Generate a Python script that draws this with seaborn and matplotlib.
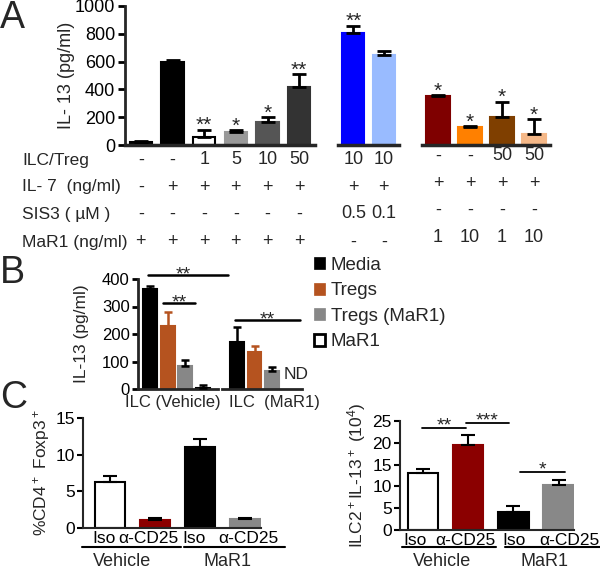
import numpy as np
import matplotlib
matplotlib.use("Agg")
import matplotlib.pyplot as plt
import matplotlib.transforms as mtransforms
from matplotlib.patches import Patch
import seaborn as sns

# ---- panel A : IL-13 (pg/ml) ----
a1_vals = [20, 600, 60, 95, 165, 420]
a1_err = [10, 12, 50, 12, 35, 90]
a1_stars = ["", "", "**", "*", "*", "**"]
a1_colors = ["#000000", "#000000", "#ffffff", "#999999", "#555555", "#333333"]

a2_vals = [808, 645]
a2_err = [50, 30]
a2_stars = ["**", ""]
a2_colors = ["#0000ff", "#99bbff"]

a3_vals = [352, 130, 200, 78]
a3_err = [5, 5, 110, 108]
a3_stars = ["*", "*", "*", "*"]
a3_colors = ["#7f0000", "#ff8000", "#7f3f00", "#f5b888"]

row_names = ["ILC/Treg", "IL- 7  (ng/ml)", "SIS3 ( µM )", "MaR1 (ng/ml)"]
a1_rows = [["-", "-", "1", "5", "10", "50"],
           ["-", "+", "+", "+", "+", "+"],
           ["-", "-", "-", "-", "-", "-"],
           ["+", "+", "+", "+", "+", "+"]]
a2_rows = [["10", "10"], ["+", "+"], ["0.5", "0.1"], ["-", "-"]]
a3_rows = [["-", "-", "50", "50"], ["+", "+", "+", "+"],
           ["-", "-", "-", "-"], ["1", "10", "1", "10"]]

# ---- panel B ----
b_labels = ["Media", "Tregs", "Tregs (MaR1)", "MaR1"]
b_colors = ["#000000", "#b5531f", "#878787", "#ffffff"]
b_veh_vals = [365, 230, 85, 5]
b_veh_err = [8, 50, 22, 10]
b_mar_vals = [170, 135, 65]
b_mar_err = [57, 20, 14]

# ---- panel C ----
c_ticks = ["Iso", "α-CD25", "Iso", "α-CD25"]
c_groups = ["Vehicle", "MaR1"]
c_colors = ["#ffffff", "#8b0000", "#000000", "#888888"]
c1_vals = [6.3, 1.1, 11.0, 1.25]
c1_err = [0.8, 0.25, 1.1, 0.12]
c2_vals = [13.0, 19.5, 4.2, 10.3]
c2_err = [0.9, 2.2, 1.3, 1.2]

W, H = 600, 569
sns.set_style("ticks")
plt.rcParams["font.family"] = ["Liberation Sans", "DejaVu Sans"]
plt.rcParams["mathtext.default"] = "regular"
plt.rcParams["xtick.color"] = "black"
plt.rcParams["ytick.color"] = "black"

fig = plt.figure(figsize=(W / 100, H / 100), dpi=100)


def px_box(l, t, r, b):
    return [l / W, 1 - b / H, (r - l) / W, (b - t) / H]


def fy(p):
    return 1 - p / H


def bars(ax, vals, err, colors, width, ecolors=None, lw=2, cap=5):
    ids = [f"b{i}" for i in range(len(vals))]
    sns.barplot(x=ids, y=vals, hue=ids, palette=dict(zip(ids, colors)),
                legend=False, width=width, saturation=1, ax=ax)
    for p, c in zip(ax.patches, colors):
        p.set_edgecolor("black" if c == "#ffffff" else c)
        p.set_linewidth(1.5)
    if ecolors is None:
        ecolors = ["black"] * len(vals)
    for i, (v, e, ec) in enumerate(zip(vals, err, ecolors)):
        ax.errorbar([i], [v], yerr=[[0], [e]], fmt="none", ecolor=ec,
                    elinewidth=lw, capsize=cap, capthick=lw, zorder=3)
    ax.set_xlabel("")
    ax.set_ylabel("")
    sns.despine(ax=ax)


def stars(ax, vals, err, marks, size=15):
    for i, (v, e, s) in enumerate(zip(vals, err, marks)):
        if s:
            ax.annotate(s, (i, v + e), xytext=(0, -1), textcoords="offset points",
                        ha="center", va="baseline", fontsize=size)


# ================= A =================
axA1 = fig.add_axes(px_box(125, 6, 315, 145))
axA2 = fig.add_axes(px_box(338, 6, 399, 145))
axA3 = fig.add_axes(px_box(422, 6, 550, 145))
bars(axA1, a1_vals, a1_err, a1_colors, 0.7)
bars(axA2, a2_vals, a2_err, a2_colors, 0.72)
bars(axA3, a3_vals, a3_err, a3_colors, 0.72)
stars(axA1, a1_vals, a1_err, a1_stars)
stars(axA2, a2_vals, a2_err, a2_stars)
stars(axA3, a3_vals, a3_err, a3_stars)
for ax, n in [(axA1, 6), (axA2, 2), (axA3, 4)]:
    ax.set_ylim(0, 1000)
    ax.set_xlim(-0.5, n - 0.5)
    ax.set_xticks([])
    ax.spines["bottom"].set_linewidth(2.5)
    ax.spines["left"].set_linewidth(2)
axA1.set_yticks([0, 200, 400, 600, 800, 1000])
axA1.tick_params(axis="y", labelsize=13, width=2, length=5, pad=2)
axA1.set_ylabel("IL- 13 (pg/ml)", fontsize=13, labelpad=0)
for ax in (axA2, axA3):
    ax.spines["left"].set_visible(False)
    ax.set_yticks([])

row_y = [160, 187, 214, 242]
for name, y in zip(row_names, row_y):
    fig.text(22 / W, fy(y), name, fontsize=12.5, va="center", ha="left")
for ax, rows, dy in [(axA1, a1_rows, 0), (axA2, a2_rows, 0), (axA3, a3_rows, -4)]:
    tr = mtransforms.blended_transform_factory(ax.transData, fig.transFigure)
    for r, y in zip(rows, row_y):
        for i, s in enumerate(r):
            ax.text(i, fy(y + dy), s, transform=tr, fontsize=13,
                    ha="center", va="center")

# ================= B =================
axB1 = fig.add_axes(px_box(138, 279, 218, 389))
axB2 = fig.add_axes(px_box(222, 279, 302, 389))
bars(axB1, b_veh_vals, b_veh_err, b_colors, 0.78,
     ["black", "#b5531f", "black", "black"], lw=1.8, cap=3)
bars(axB2, b_mar_vals, b_mar_err, b_colors[:3], 0.78,
     ["black", "#b5531f", "black"], lw=1.8, cap=3)
axB1.set_xlim(-0.68, 3.85)
axB2.set_xlim(-0.86, 3.71)
for ax in (axB1, axB2):
    ax.set_ylim(0, 400)
    ax.set_xticks([])
    ax.spines["bottom"].set_linewidth(2)
    ax.spines["left"].set_linewidth(2)
axB1.set_yticks([0, 100, 200, 300, 400])
axB1.tick_params(axis="y", labelsize=12, width=2, length=4, pad=2)
axB1.set_ylabel("IL-13 (pg/ml)", fontsize=12.5, labelpad=9)
axB2.spines["left"].set_visible(False)
axB2.set_yticks([])
axB2.text(3.35, 51, "ND", fontsize=12.5, ha="center", va="center")
axB1.text(0.44, fy(403), "ILC (Vehicle)", transform=mtransforms.blended_transform_factory(
    axB1.transAxes, fig.transFigure), fontsize=12, ha="center", va="center")
axB2.text(0.66, fy(403), "ILC  (MaR1)", transform=mtransforms.blended_transform_factory(
    axB2.transAxes, fig.transFigure), fontsize=12, ha="center", va="center")

for ax, x0, x1, y, xt in [(axB1, -0.11, 4.43, 415, 1.88),
                          (axB1, 0.74, 2.56, 313, 1.65),
                          (axB2, -0.11, 3.6, 251, 1.75)]:
    ax.plot([x0, x1], [y, y], color="black", lw=1.8, clip_on=False)
    ax.annotate("**", (xt, y), xytext=(0, -3),
                textcoords="offset points", ha="center", va="baseline",
                fontsize=14, annotation_clip=False)

handles = [Patch(facecolor=c, edgecolor="black" if c in ("#ffffff", "#000000") else c,
                 linewidth=2 if c == "#ffffff" else 0.5) for c in b_colors]
fig.legend(handles, b_labels, loc="upper left", bbox_to_anchor=(314 / W, fy(257)),
           frameon=False, fontsize=13.5, handlelength=0.6, handleheight=0.6,
           handletextpad=0.3, labelspacing=0.45, borderaxespad=0, borderpad=0)

# ================= C =================
axC1 = fig.add_axes(px_box(83, 418, 261, 528))
axC2 = fig.add_axes(px_box(400, 421, 574, 530))
bars(axC1, c1_vals, c1_err, c_colors, 0.67, lw=1.5, cap=5)
bars(axC2, c2_vals, c2_err, c_colors, 0.67, lw=1.5, cap=5)
axC1.set_xlim(-0.6, 3.36)
axC2.set_xlim(-0.51, 3.34)
axC1.set_ylim(0, 15)
axC1.set_yticks([0, 5, 10, 15])
axC2.set_ylim(0, 25)
axC2.set_yticks([0, 5, 10, 15, 20, 25])
axC1.set_xticks([-0.13, 0.86, 1.86, 3.07])
axC2.set_xticks([-0.18, 0.94, 2.01, 3.24])
for ax in (axC1, axC2):
    ax.set_xticklabels(c_ticks)
    ax.tick_params(axis="x", length=0, pad=2, labelsize=12.5)
    ax.tick_params(axis="y", labelsize=12.5, width=1.5, length=4, pad=2)
    ax.spines["bottom"].set_linewidth(1.5)
    ax.spines["left"].set_linewidth(1.5)
axC1.set_ylabel("%CD4$^+$ Foxp3$^+$", fontsize=12.5, labelpad=2)
axC2.set_ylabel("ILC2$^+$IL-13$^+$ (10$^4$)", fontsize=12.5, labelpad=3)

for ax, segs, txt in [(axC1, [(-0.63, 1.57), (1.64, 3.89)], [0.27, 2.62]),
                      (axC2, [(-0.47, 1.61), (1.81, 3.96)], [0.43, 2.68])]:
    tr = mtransforms.blended_transform_factory(ax.transData, fig.transFigure)
    for (x0, x1), xt, g in zip(segs, txt, c_groups):
        ax.plot([x0, x1], [fy(547), fy(547)], color="black", lw=1.5,
                transform=tr, clip_on=False)
        ax.text(xt, fy(562), g, transform=tr, fontsize=13, ha="center", va="center")

for x0, x1, y, s in [(-0.02, 0.94, 23.4, "**"), (0.94, 1.90, 24.6, "***"),
                     (2.15, 3.13, 13.3, "*")]:
    axC2.plot([x0, x1], [y, y], color="black", lw=1.3, clip_on=False)
    axC2.annotate(s, ((x0 + x1) / 2, y), xytext=(0, -2), textcoords="offset points",
                  ha="center", va="baseline", fontsize=14, annotation_clip=False)

# panel letters
fig.text(0.0, fy(18), "A", fontsize=27, va="center", ha="left")
fig.text(0.0, fy(273), "B", fontsize=27, va="center", ha="left")
fig.text(0.0, fy(398), "C", fontsize=27, va="center", ha="left")

fig.savefig("out.png", dpi=100)
